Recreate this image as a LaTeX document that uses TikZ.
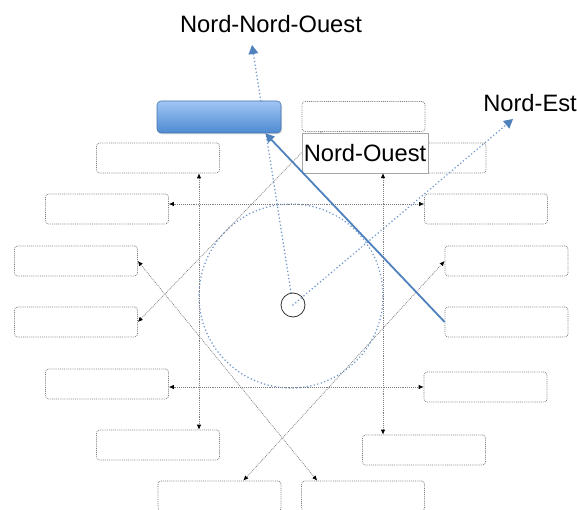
\documentclass[tikz,border=0pt]{standalone}
\usepackage{fontspec}
\setmainfont{Liberation Sans}
\usetikzlibrary{arrows.meta, shadows}

\definecolor{compassblue}{RGB}{79,129,189}
\definecolor{dotblue}{RGB}{110,150,205}
\definecolor{paleblue}{RGB}{160,198,245}
\definecolor{fillblue}{RGB}{78,138,210}
\definecolor{slotgray}{RGB}{125,125,125}

\begin{document}
\begin{tikzpicture}[
    x=1pt, y=-1pt,
    slot/.style={draw=slotgray, line width=0.7pt, dash pattern=on 0.9pt off 1pt, rounded corners=3pt, minimum width=123pt, minimum height=30pt, inner sep=0pt},
    link/.style={draw=slotgray, dash pattern=on 0.9pt off 1pt, line width=0.7pt},
    tip/.style={{Latex[length=5pt, width=4.5pt, black]}-{Latex[length=5pt, width=4.5pt, black]}},
    bluedot/.style={draw=dotblue, line width=1.7pt, line cap=round, dash pattern=on 0pt off 3.6pt},
    bluetip/.style={-{Triangle[length=9pt, width=10pt, fill=compassblue, line cap=butt, line width=0pt]}},
    label/.style={font=\fontsize{23.7}{28}\selectfont, inner sep=2pt}
]
    \useasboundingbox (0,0) rectangle (577,510);

    % Left column
    \node[slot] (l1) at (158,158) {};
    \node[slot] (l2) at (107,209) {};
    \node[slot] (l3) at (76,261) {};
    \node[slot] (l4) at (76,322) {};
    \node[slot] (l5) at (107,384) {};
    \node[slot] (l6) at (158,445) {};
    \node[slot] (l7) at (219.5,496) {};

    % Right column
    \node[slot] (r0) at (363.5,116.5) {};
    \node[slot] (r1) at (424.5,158) {};
    \node[slot] (r2) at (486,209) {};
    \node[slot] (r3) at (506.5,261) {};
    \node[slot] (r4) at (506.5,322) {};
    \node[slot] (r5) at (485.5,387) {};
    \node[slot] (r6) at (424,450) {};
    \node[slot] (r7) at (363,496) {};

    % Big dotted circle and hub
    \draw[bluedot] (291,296) circle (92pt);
    \node[circle, draw=black!80, fill=white, line width=0.8pt, minimum size=24pt, inner sep=0pt] (hub) at (293,305) {};

    % Guide lines
    \coordinate (vl) at (199,0);
    \coordinate (vr) at (383,0);
    \coordinate (hu) at (0,204);
    \coordinate (hd) at (0,387);
    \draw[link, tip] (l1.south -| vl) -- (l6.north -| vl);
    \draw[link, tip] (l2.east |- hu) -- (r2.west |- hu);
    \draw[link, tip] (l5.east |- hd) -- (r5.west |- hd);
    \draw[link, tip] (l3.east) -- ([xshift=16pt]r7.north west);
    \draw[link, tip] (r3.west) -- ([xshift=-38pt]l7.north east);
    \draw[link, {Latex[length=5pt, width=4.5pt, black]}-] (l4.east) -- ([xshift=20pt]r0.south west);

    % Directions
    \coordinate (nnotip) at (252,45);
    \coordinate (netip) at (513,119);
    \draw[bluedot, bluetip] (hub) -- (nnotip);
    \draw[bluedot, bluetip] (hub.center) -- (netip);
    \node[label] (nno) at (271,24) {Nord-Nord-Ouest};
    \node[label] (ne) at (530,103) {Nord-Est};

    % Chosen direction
    \node[rounded corners=4pt, draw=compassblue!90!black, line width=0.6pt, top color=paleblue, bottom color=fillblue, minimum width=124pt, minimum height=32pt, drop shadow={opacity=0.25, shadow xshift=1pt, shadow yshift=-1.5pt}] (pick) at (219,117) {};
    \node[label, draw=black!35, fill=white, minimum width=126pt, minimum height=40pt] (no) at (365,153) {Nord-Ouest};
    \draw[link, tip] (no.south -| vr) -- (r6.north -| vr);
    \draw[compassblue, line width=1.8pt, -{Triangle[length=9pt, width=9pt]}] (r4.west) -- ([xshift=-16pt]pick.south east);
\end{tikzpicture}
\end{document}
